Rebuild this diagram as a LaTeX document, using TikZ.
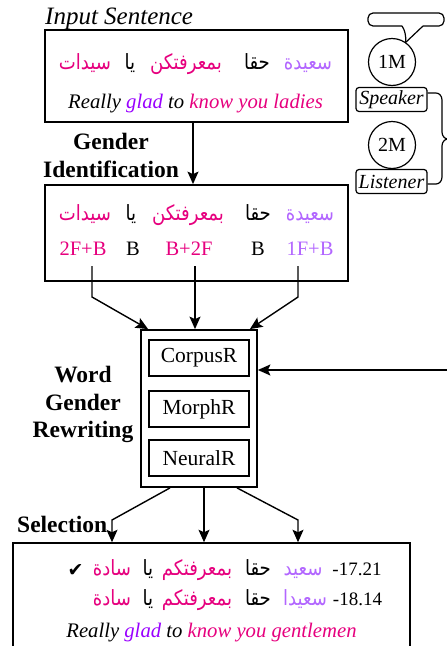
\documentclass[tikz,border=0pt]{standalone}
\usepackage{fontspec}
\setmainfont{Liberation Serif}
\newfontfamily\arabicfont[Script=Arabic,FakeStretch=0.86]{DejaVu Sans}
\newfontfamily\symfont{DejaVu Sans}
\TeXXeTstate=1
\usetikzlibrary{arrows.meta}
\definecolor{mag}{RGB}{230,0,126}
\definecolor{lpur}{RGB}{178,102,255}
\definecolor{dpur}{RGB}{153,0,255}
\newcommand{\AR}[1]{\beginR #1\endR}
\begin{document}
\begin{tikzpicture}[x=1pt,y=-1pt,
  box/.style={draw,line width=1.8pt,inner sep=0pt},
  arr/.style={line width=1.4pt,-{Stealth[length=12.5pt,width=11pt,inset=2.5pt]}},
  ab/.style={anchor=base,inner sep=0pt,font=\arabicfont\fontsize{21}{24}\selectfont},
  lab/.style={anchor=base,inner sep=0pt,font=\fontsize{20.5}{24}\selectfont},
  eng/.style={anchor=base,inner sep=0pt,font=\itshape\fontsize{20.7}{24}\selectfont},
  boldlab/.style={align=center,inner sep=0pt,font=\bfseries\fontsize{23.5}{27.5}\selectfont},
  inbox/.style={draw,line width=1.6pt,minimum width=100pt,minimum height=36pt,inner sep=0pt,font=\fontsize{21.5}{24}\selectfont},
  person/.style={draw,circle,line width=1.2pt,minimum size=47pt,inner sep=0pt,font=\fontsize{20}{24}\selectfont},
  role/.style={draw,rounded corners=3pt,line width=1.2pt,minimum width=71pt,minimum height=24pt,inner sep=0pt,font=\itshape\fontsize{20}{24}\selectfont}
]
\useasboundingbox (0,0) rectangle (447,646);
\clip (0,0) rectangle (447,646);

% Input sentence
\node[anchor=base west,inner sep=0pt,font=\itshape\fontsize{25}{30}\selectfont] (title) at (45,24) {Input Sentence};
\node[box,minimum width=303pt,minimum height=92pt] (b1) at (196.5,76) {};
\node[ab,text=mag] (a11) at (85,69) {\AR{سيدات}};
\node[ab] (a12) at (130,69) {\AR{يا}};
\node[ab,text=mag] (a13) at (186,69) {\AR{بمعرفتكن}};
\node[ab] (a14) at (257,69) {\AR{حقا}};
\node[ab,text=lpur] (a15) at (308,69) {\AR{سعيدة}};
\node[eng] (e1) at (195.5,108) {Really \textcolor{dpur}{glad} to \textcolor{mag}{know you ladies}};

% Gender identification
\node[boldlab] (gi) at (111,155.5) {Gender\\Identification};
\node[box,minimum width=303pt,minimum height=96pt] (b2) at (196.5,233) {};
\node[ab,text=mag] (a21) at (85,220) {\AR{سيدات}};
\node[ab] (a22) at (131,220) {\AR{يا}};
\node[ab,text=mag] (a23) at (188,220) {\AR{بمعرفتكن}};
\node[ab] (a24) at (258,220) {\AR{حقا}};
\node[ab,text=lpur] (a25) at (310,220) {\AR{سعيدة}};
\node[lab,text=mag] (l1) at (83,255) {2F+B};
\node[lab] (l2) at (133,255) {B};
\node[lab,text=mag] (l3) at (189,255) {B+2F};
\node[lab] (l4) at (258,255) {B};
\node[lab,text=lpur] (l5) at (310,255) {1F+B};
\draw[arr] ([xshift=-3.5pt]b1.south) -- ([xshift=-3.5pt]b2.north);

% Word gender rewriting
\node[boldlab] (wgr) at (83,404.5) {Word\\Gender\\Rewriting};
\node[box,minimum width=116pt,minimum height=157pt] (rw) at (199,408.5) {};
\node[inbox] (r1) at (199,358) {CorpusR};
\node[inbox] (r2) at (199,409) {MorphR};
\node[inbox] (r3) at (199,458) {NeuralR};

\coordinate (s1) at (92,266);
\coordinate (s2) at (195,266);
\coordinate (s3) at (298,266);
\draw[arr] (s1) -- ++(0,31) -- ([xshift=8pt]rw.north west);
\draw[arr] (s2) -- (s2 |- rw.north);
\draw[arr] (s3) -- ++(0,31) -- ([xshift=-8pt]rw.north east);

\coordinate (rin) at (452,370);
\draw[arr] (rin) -- (rin -| rw.east);

% Selection
\node[boldlab,anchor=base west] (sel) at (17,532) {Selection};
\node[draw,line width=1.5pt,minimum width=397pt,minimum height=137pt,inner sep=0pt] (bb) at (211.5,611.5) {};
\draw[arr] ([xshift=-29pt]rw.south) -- (112,520) -- ([xshift=-99.5pt]bb.north);
\draw[arr] ([xshift=5pt]rw.south) -- ([xshift=-7.5pt]bb.north);
\draw[arr] ([xshift=38pt]rw.south) -- (298,520) -- ([xshift=86.5pt]bb.north);

\node[anchor=base,inner sep=0pt,font=\symfont\fontsize{19}{22}\selectfont] (chk) at (75.5,576) {✔};
\node[ab,text=mag] (c11) at (112,575) {\AR{سادة}};
\node[ab] (c12) at (148,575) {\AR{يا}};
\node[ab,text=mag] (c13) at (197,575) {\AR{بمعرفتكم}};
\node[ab] (c14) at (258,575) {\AR{حقا}};
\node[ab,text=lpur] (c15) at (303,575) {\AR{سعيد}};
\node[lab,font=\fontsize{19}{22}\selectfont] (sc1) at (357,575) {-17.21};
\node[ab,text=mag] (c21) at (112,605) {\AR{سادة}};
\node[ab] (c22) at (148,605) {\AR{يا}};
\node[ab,text=mag] (c23) at (197,605) {\AR{بمعرفتكم}};
\node[ab] (c24) at (258,605) {\AR{حقا}};
\node[ab,text=lpur] (c25) at (305,605) {\AR{سعيدا}};
\node[lab,font=\fontsize{19}{22}\selectfont] (sc2) at (357.5,605) {-18.14};
\node[eng] (e3) at (211.5,637) {Really \textcolor{dpur}{glad} to \textcolor{mag}{know you gentlemen}};

% Speaker / listener
\node[person] (p1) at (392,62) {1M};
\node[role] (sp) at (391.5,99.5) {Speaker};
\node[person] (p2) at (392,145) {2M};
\node[role] (ls) at (391.5,181.5) {Listener};
\draw[line width=1.2pt,rounded corners=5pt] (402,26) -- (368,26) -- (368,13) -- (444,13) -- (444,26) -- (423,26);
\draw[line width=1.2pt] (423,26) -- (p1.55);
\draw[line width=1.2pt] (402,26) .. controls (405,30) and (406,36) .. (p1.55);
\draw[line width=1.2pt] (sp.east |- 0,93) -- (436,93) to[out=0,in=90] (442,100) -- (442,132) to[out=-90,in=180] (448,139) to[out=180,in=90] (442,146) -- (442,177) to[out=-90,in=0] (436,184) -- (ls.east |- 0,184);
\end{tikzpicture}
\end{document}
